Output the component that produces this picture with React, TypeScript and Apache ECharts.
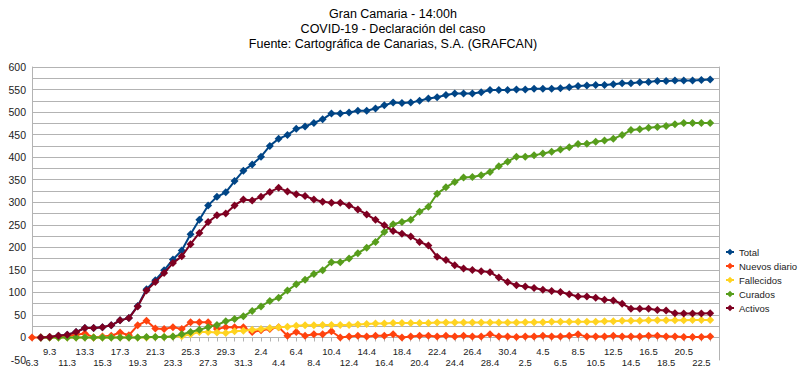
import React, { useEffect, useRef } from "react";
import * as echarts from "echarts";

const titleLines = [
  "Gran Camaria - 14:00h",
  "COVID-19 - Declaración del caso",
  "Fuente: Cartográfica de Canarias, S.A. (GRAFCAN)",
];

const dates = [
  "6.3", "8.3", "9.3", "10.3", "11.3", "12.3", "13.3", "14.3", "15.3", "16.3",
  "17.3", "18.3", "19.3", "20.3", "21.3", "22.3", "23.3", "24.3", "25.3", "26.3",
  "27.3", "28.3", "29.3", "30.3", "31.3", "1.4", "2.4", "3.4", "4.4", "5.4",
  "6.4", "7.4", "8.4", "9.4", "10.4", "11.4", "12.4", "13.4", "14.4", "15.4",
  "16.4", "17.4", "18.4", "19.4", "20.4", "21.4", "22.4", "23.4", "24.4", "25.4",
  "26.4", "27.4", "28.4", "29.4", "30.4", "1.5", "2.5", "3.5", "4.5", "5.5",
  "6.5", "7.5", "8.5", "9.5", "10.5", "11.5", "12.5", "13.5", "14.5", "15.5",
  "16.5", "17.5", "18.5", "19.5", "20.5", "21.5", "22.5", "23.5", "",
];

const seriesNames = ["Total", "Nuevos diario", "Fallecidos", "Curados", "Activos"];
const seriesColors = ["#004586", "#ff420e", "#ffd320", "#579d1c", "#7e0021"];

const total = [
  null, 0, 1, 4, 6, 12, 21, 21, 23, 27,
  38, 43, 70, 107, 127, 149, 173, 193, 229, 261,
  293, 312, 322, 347, 370, 384, 401, 425, 441, 449,
  463, 468, 476, 484, 497, 497, 499, 503, 503, 508,
  515, 521, 520, 521, 525, 530, 533, 538, 541, 541,
  541, 544, 549, 549, 549, 550, 550, 552, 552, 552,
  553, 555, 558, 559, 560, 560, 562, 564, 564, 566,
  567, 569, 569, 570, 570, 570, 571, 572,
];

const nuevos = [
  0, 0, 1, 3, 2, 6, 9, 0, 2, 4,
  11, 5, 27, 37, 20, 19, 23, 19, 34, 34,
  34, 19, 23, 23, 23, 12, 16, 19, 23, 4,
  12, 4, 7, 7, 14, 0, 2, 4, 2, 4,
  4, 7, 0, 2, 4, 4, 2, 4, 2, 4,
  2, 2, 7, 2, 2, 1, 2, 2, 4, 2,
  2, 4, 7, 2, 2, 2, 4, 2, 2, 2,
  4, 4, 2, 2, 1, 1, 1, 2,
];

const fallecidos = [
  null, 0, 0, 0, 0, 0, 0, 0, 0, 0,
  0, 0, 0, 0, 1, 1, 2, 3, 7, 12,
  12, 11, 10, 14, 15, 17, 19, 21, 23, 24,
  26, 27, 27, 28, 28, 28, 28, 29, 30, 31,
  31, 32, 32, 32, 32, 32, 33, 33, 33, 33,
  33, 33, 33, 33, 33, 33, 34, 34, 34, 35,
  35, 35, 35, 35, 35, 36, 36, 37, 37, 37,
  38, 38, 38, 38, 38, 39, 39, 39,
];

const curados = [
  null, 0, 0, 0, 0, 0, 0, 0, 0, 0,
  0, 0, 0, 1, 1, 1, 2, 7, 12, 17,
  23, 28, 36, 41, 47, 59, 69, 81, 88, 104,
  118, 128, 141, 149, 167, 167, 175, 187, 199, 212,
  234, 251, 256, 261, 279, 290, 319, 333, 345, 355,
  356, 360, 367, 380, 390, 401, 401, 404, 408, 412,
  417, 422, 429, 430, 434, 437, 441, 449, 460, 462,
  465, 467, 469, 473, 476, 476, 476, 476,
];

const activos = [
  null, 0, 1, 4, 6, 12, 21, 21, 23, 27,
  38, 43, 69, 104, 123, 143, 165, 180, 207, 232,
  256, 271, 275, 293, 306, 304, 312, 323, 332, 324,
  318, 314, 306, 301, 299, 299, 293, 284, 273, 261,
  249, 236, 230, 224, 212, 204, 179, 172, 160, 153,
  150, 147, 145, 133, 123, 116, 113, 110, 106, 103,
  101, 96, 91, 91, 88, 84, 82, 75, 64, 64,
  64, 61, 60, 54, 53, 53, 53, 54,
];

const seriesData = [total, nuevos, fallecidos, curados, activos];

const FONT = "'Liberation Sans', Arial, sans-serif";
const GRID_COLOR = "#b3b3b3";
const TEXT_COLOR = "#222";

export default function App() {
  const ref = useRef<HTMLDivElement>(null);

  useEffect(() => {
    if (!ref.current) return;
    const chart = echarts.init(ref.current, null, { renderer: "svg" });
    const option: any = {
      animation: false,
      backgroundColor: "#ffffff",
      textStyle: { fontFamily: FONT },
      graphic: [
        {
          type: "text",
          x: 393,
          y: 6,
          style: {
            text: titleLines.join("\n"),
            fill: "#000",
            fontSize: 12.5,
            fontFamily: FONT,
            lineHeight: 15,
            textAlign: "center",
          },
        },
      ],
      grid: [
        // data grid: from 600 down to the zero line
        { left: 32, right: 81, top: 67, bottom: 47.5 },
        // label grid: from 600 down to -50
        { left: 32, right: 81, top: 67, bottom: 25 },
      ],
      legend: {
        orient: "vertical",
        left: 725,
        top: 246,
        padding: 0,
        itemWidth: 8,
        itemHeight: 8,
        itemGap: 2,
        data: seriesNames,
        textStyle: { fontSize: 9.5, lineHeight: 12, color: TEXT_COLOR, fontFamily: FONT },
      },
      xAxis: [
        {
          type: "category",
          gridIndex: 0,
          data: dates,
          boundaryGap: false,
          axisLine: { show: true, onZero: false, lineStyle: { color: GRID_COLOR } },
          axisTick: { show: true, interval: 0, length: 4, lineStyle: { color: GRID_COLOR } },
          axisLabel: {
            interval: 1,
            margin: 8,
            fontSize: 9.5,
            lineHeight: 11.5,
            color: TEXT_COLOR,
            fontFamily: FONT,
            formatter: (v: string, i: number) => (i % 4 === 0 ? "\n" + v : v),
          },
          splitLine: { show: false },
        },
        { type: "value", gridIndex: 1, show: false, min: 0, max: 1 },
      ],
      yAxis: [
        {
          type: "value",
          gridIndex: 0,
          min: 0,
          max: 600,
          interval: 25,
          axisLine: { show: true, lineStyle: { color: GRID_COLOR } },
          axisTick: { show: false },
          axisLabel: { show: false },
          splitLine: { show: true, lineStyle: { color: GRID_COLOR, width: 1 } },
        },
        {
          type: "value",
          gridIndex: 1,
          min: -50,
          max: 600,
          interval: 25,
          axisLine: { show: false },
          axisTick: { show: false },
          splitLine: { show: false },
          axisLabel: {
            margin: 6,
            fontSize: 10.5,
            color: TEXT_COLOR,
            fontFamily: FONT,
            formatter: (v: number) => (v % 50 === 0 ? String(v) : ""),
          },
        },
        {
          type: "value",
          gridIndex: 1,
          position: "right",
          min: -50,
          max: 600,
          interval: 25,
          axisLine: { show: true, lineStyle: { color: GRID_COLOR } },
          axisTick: { show: false },
          axisLabel: { show: false },
          splitLine: { show: false },
        },
      ],
      series: seriesNames.map((name, k) => ({
        name,
        type: "line",
        xAxisIndex: 0,
        yAxisIndex: 0,
        data: seriesData[k],
        symbol: "diamond",
        symbolSize: 8,
        showSymbol: true,
        showAllSymbol: true,
        connectNulls: false,
        clip: false,
        color: seriesColors[k],
        lineStyle: { width: 2, color: seriesColors[k] },
        itemStyle: { color: seriesColors[k] },
        emphasis: { disabled: true },
        z: 2 + k,
      })),
    };
    chart.setOption(option);
    return () => chart.dispose();
  }, []);

  return (
    <div
      ref={ref}
      style={{ position: "fixed", left: 0, top: 0, width: 800, height: 385, background: "#fff" }}
    />
  );
}
